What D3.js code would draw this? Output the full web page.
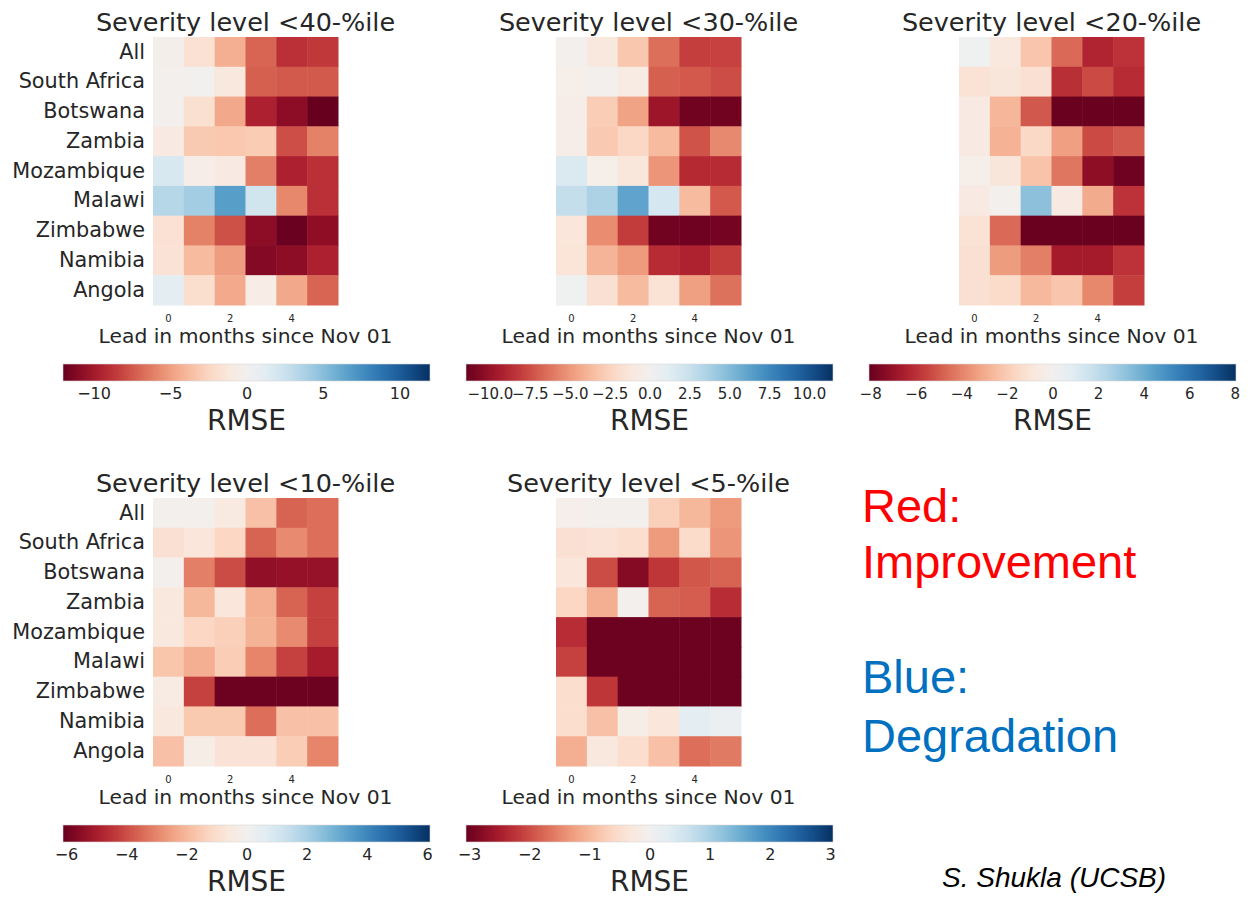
<!DOCTYPE html>
<html>
<head>
<meta charset="utf-8">
<script src="https://cdn.jsdelivr.net/npm/d3@7/dist/d3.min.js"></script>
<style>
  html, body { margin: 0; padding: 0; background: #fff; }
  svg { display: block; }
  text { font-family: "DejaVu Sans", sans-serif; fill: #262626; }
</style>
</head>
<body>
<svg id="chart" width="1260" height="897"></svg>
<script>
// rows / columns shared by all five heatmaps
const rowLabels = ["All", "South Africa", "Botswana", "Zambia", "Mozambique", "Malawi", "Zimbabwe", "Namibia", "Angola"];
const leadMonths = [0, 1, 2, 3, 4, 5];
const leadTicks = [0, 2, 4];

// RMSE difference per row (country) and lead month
const sev40 = [
  [-0.3, -1.7, -4.3, -7.0, -8.9, -8.6],
  [-0.2, 0.1, -1.2, -7.2, -7.4, -7.4],
  [-0.2, -1.8, -4.6, -9.6, -10.8, -12.0],
  [-0.9, -3.1, -3.2, -3.0, -7.8, -6.0],
  [1.9, -0.5, -0.9, -6.1, -9.6, -8.9],
  [3.4, 4.1, 6.7, 2.2, -5.8, -8.9],
  [-1.7, -6.0, -7.7, -10.8, -11.9, -10.7],
  [-1.6, -3.8, -5.0, -11.1, -10.8, -9.6],
  [1.2, -1.9, -4.5, -0.7, -4.6, -7.0]
];
const sev30 = [
  [-0.1, -1.1, -3.1, -6.4, -8.0, -7.9],
  [-0.4, -0.1, -0.8, -6.9, -7.1, -7.5],
  [-0.5, -2.8, -4.6, -9.8, -11.2, -11.2],
  [-0.5, -3.0, -2.2, -3.6, -7.3, -5.5],
  [1.6, -0.4, -1.2, -5.1, -8.8, -8.7],
  [2.7, 3.6, 6.1, 1.9, -3.6, -7.1],
  [-1.3, -5.4, -8.1, -11.2, -11.3, -11.1],
  [-1.4, -3.9, -4.9, -8.7, -9.1, -8.1],
  [0.3, -1.7, -3.6, -1.6, -4.7, -6.3]
];
const sev20 = [
  [0.2, -0.8, -2.2, -4.6, -6.3, -5.9],
  [-1.1, -0.9, -1.2, -6.0, -5.3, -6.1],
  [-0.6, -2.7, -5.0, -8.0, -8.0, -8.0],
  [-0.6, -2.8, -1.5, -3.3, -5.3, -5.0],
  [-0.3, -0.9, -2.3, -4.3, -7.2, -7.9],
  [-0.6, -0.1, 3.3, -0.6, -3.0, -5.9],
  [-1.1, -4.6, -8.0, -8.0, -8.0, -8.0],
  [-1.2, -3.4, -4.1, -6.6, -6.6, -5.9],
  [-1.2, -1.4, -2.6, -2.2, -3.9, -5.6]
];
const sev10 = [
  [-0.1, -0.05, -0.5, -1.8, -3.6, -3.4],
  [-0.9, -0.7, -1.2, -3.6, -2.9, -3.4],
  [-0.1, -3.1, -4.0, -5.4, -5.35, -5.3],
  [-0.6, -2.0, -0.7, -2.2, -3.6, -4.2],
  [-0.6, -1.2, -1.4, -2.1, -2.9, -4.2],
  [-1.7, -2.2, -1.5, -3.0, -4.2, -5.0],
  [-0.4, -4.2, -6.0, -6.0, -6.0, -6.0],
  [-0.6, -1.6, -1.6, -3.4, -1.8, -1.8],
  [-1.8, -0.3, -0.8, -0.8, -1.5, -3.0]
];
const sev05 = [
  [-0.1, -0.02, -0.05, -0.7, -1.0, -1.3],
  [-0.45, -0.4, -0.5, -1.3, -0.55, -1.35],
  [-0.35, -2.0, -2.8, -2.2, -1.9, -1.8],
  [-0.6, -1.1, -0.03, -1.8, -1.85, -2.3],
  [-2.3, -3.0, -3.0, -3.0, -3.0, -3.0],
  [-2.1, -3.0, -3.0, -3.0, -3.0, -3.0],
  [-0.5, -2.2, -3.0, -3.0, -3.0, -3.0],
  [-0.5, -0.9, -0.15, -0.35, 0.3, 0.15],
  [-1.1, -0.3, -0.5, -0.9, -1.7, -1.6]
];

// colour limits and colourbar ticks per panel
const panelTitles = ["Severity level <40-%ile", "Severity level <30-%ile", "Severity level <20-%ile", "Severity level <10-%ile", "Severity level <5-%ile"];
const colorLimits = [12, 11.5, 8.05, 6.1, 3.05];
const cbarTicks = [
  [-10, -5, 0, 5, 10],
  [-10, -7.5, -5, -2.5, 0, 2.5, 5, 7.5, 10],
  [-8, -6, -4, -2, 0, 2, 4, 6, 8],
  [-6, -4, -2, 0, 2, 4, 6],
  [-3, -2, -1, 0, 1, 2, 3]
];
const cbarFormats = ["d", ".1f", "d", "d", "d"];

const svg = d3.select("#chart");
svg.append("rect").attr("width", 1260).attr("height", 897).attr("fill", "#fff");

const cellW = 185, cellH = 268;
const panels = [
  { values: sev40, left: 153, top: 37, showRows: true },
  { values: sev30, left: 556, top: 37, showRows: false },
  { values: sev20, left: 959, top: 37, showRows: false },
  { values: sev10, left: 153, top: 498, showRows: true },
  { values: sev05, left: 556, top: 498, showRows: false }
];

const x = d3.scaleBand().domain(leadMonths).range([0, cellW]);
const y = d3.scaleBand().domain(rowLabels).range([0, cellH]);
const defs = svg.append("defs");

panels.forEach((p, i) => {
  const lim = colorLimits[i];
  const color = d3.scaleDiverging(t => d3.interpolateRdBu(t)).domain([-lim, 0, lim]).clamp(true);
  const g = svg.append("g").attr("transform", `translate(${p.left},${p.top})`);

  const cells = [];
  p.values.forEach((row, r) => row.forEach((v, c) => cells.push({ row: rowLabels[r], lead: leadMonths[c], v })));

  g.selectAll("rect.cell")
    .data(cells)
    .join("rect")
    .attr("class", "cell")
    .attr("x", d => x(d.lead))
    .attr("y", d => y(d.row))
    .attr("width", x.bandwidth() + 0.5)
    .attr("height", y.bandwidth() + 0.5)
    .attr("fill", d => color(d.v));

  g.append("text")
    .attr("x", cellW / 2)
    .attr("y", -6)
    .attr("text-anchor", "middle")
    .attr("font-size", 25.5)
    .text(panelTitles[i]);

  if (p.showRows) {
    const ay = g.append("g").call(d3.axisLeft(y).tickSize(0).tickPadding(8));
    ay.select(".domain").remove();
    ay.selectAll("text").attr("font-size", 20.8).attr("font-family", "DejaVu Sans").attr("fill", "#262626");
  }

  const ax = g.append("g")
    .attr("transform", `translate(0,${cellH})`)
    .call(d3.axisBottom(x).tickValues(leadTicks).tickSize(0).tickPadding(10));
  ax.select(".domain").remove();
  ax.selectAll("text").attr("font-size", 10).attr("font-family", "DejaVu Sans").attr("fill", "#444");

  g.append("text")
    .attr("x", cellW / 2)
    .attr("y", 306)
    .attr("text-anchor", "middle")
    .attr("font-size", 20.3)
    .text("Lead in months since Nov 01");

  // colourbar
  const barW = 367, barH = 17;
  const bx = cellW / 2 + 1 - barW / 2, by = 327;
  const gradId = "grad" + i;
  const grad = defs.append("linearGradient").attr("id", gradId);
  d3.range(0, 1.0001, 0.05).forEach(t => {
    grad.append("stop").attr("offset", t).attr("stop-color", color(-lim + 2 * lim * t));
  });
  const cb = g.append("g").attr("transform", `translate(${bx},${by})`);
  cb.append("rect").attr("width", barW).attr("height", barH).attr("fill", `url(#${gradId})`)
    .attr("stroke", "#d8d8d8").attr("stroke-width", 0.6);
  const cx = d3.scaleLinear().domain([-lim, lim]).range([0, barW]);
  const cax = cb.append("g")
    .attr("transform", `translate(0,${barH})`)
    .call(d3.axisBottom(cx).tickValues(cbarTicks[i]).tickFormat(d3.format(cbarFormats[i])).tickSize(0).tickPadding(7));
  cax.select(".domain").remove();
  cax.selectAll("text").attr("font-size", cbarTicks[i].length > 7 ? 15 : 16)
    .attr("font-family", "DejaVu Sans").attr("fill", "#262626");

  g.append("text")
    .attr("x", bx + barW / 2)
    .attr("y", 392.5)
    .attr("text-anchor", "middle")
    .attr("font-size", 28)
    .text("RMSE");
});

// annotations on the right
const noteFont = "'Liberation Sans', Arial, sans-serif";
const notes = svg.append("g");
const noteLines = [
  { text: "Red:", y: 522, fill: "#ff0000" },
  { text: "Improvement", y: 578, fill: "#ff0000" },
  { text: "Blue:", y: 693, fill: "#0070c0" },
  { text: "Degradation", y: 752, fill: "#0070c0" }
];
noteLines.forEach(n => {
  notes.append("text").attr("x", 862).attr("y", n.y).attr("font-size", 47)
    .style("fill", n.fill).style("font-family", noteFont).text(n.text);
});
notes.append("text").attr("x", 942).attr("y", 887).attr("font-size", 28)
  .style("font-style", "italic").style("fill", "#000").style("font-family", noteFont).text("S. Shukla (UCSB)");
</script>
</body>
</html>
